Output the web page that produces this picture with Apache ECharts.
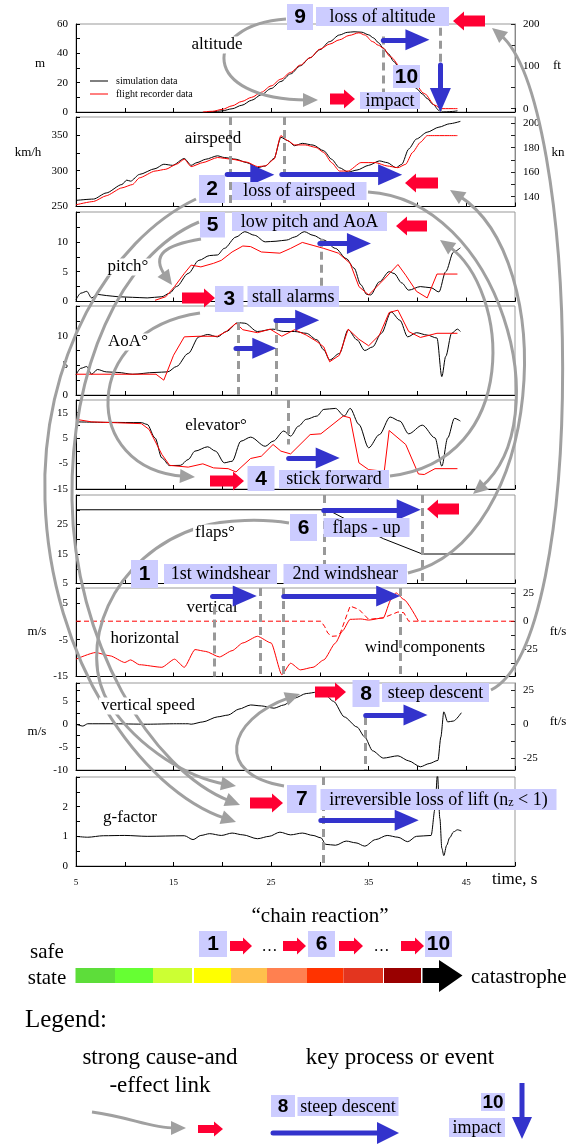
<!DOCTYPE html>
<html><head><meta charset="utf-8">
<script src="https://cdn.jsdelivr.net/npm/echarts@6.0.0/dist/echarts.min.js"></script>
<style>html,body{margin:0;padding:0;background:#fff;}#chart{width:576px;height:1144px;}</style>
</head><body><div id="chart"></div>
<script>
// ---------- tick labels ----------
const timeTickLabels = [5, 15, 25, 35, 45];
const altitudeTickLabels = [0, 20, 40, 60];
const airspeedTickLabels = [250, 300, 350];
const pitchTickLabels = [0, 5, 10];
const aoaTickLabels = [0, 5, 10];
const elevatorTickLabels = [-15, -5, 5, 15];
const flapsTickLabels = [5, 15, 25];
const windTickLabels = [-15, -5, 5];
const vspeedTickLabels = [-10, -5, 0, 5];
const gTickLabels = [0, 1, 2];
const altitudeFtLabels = [0, 100, 200];
const airspeedKnLabels = [140, 160, 180, 200];
const windFtsLabels = [-25, 0, 25];
const vspeedFtsLabels = [-25, 0, 25];

// ---------- series data [time s, value] ----------
const altitudeSim = [[18.5,0],[19,0.2],[20,0.8],[21,2.2],[22,4.6],[23,8],[24,11.8],[25,16],[26,20.8],[27,26],[28,31.5],[29,37],[30,42.5],[31,48],[32,52.5],[32.8,54.3],[33.5,54.7],[34.3,54.4],[35,52.6],[35.5,50.5],[36,47.3],[36.5,43.5],[37,39.8],[37.6,34.3],[38.2,29],[38.8,24],[39.4,19.7],[39.9,16],[40.5,12.3],[41,9.2],[41.6,5.2],[42.2,1.1],[42.4,0],[43,0.1],[43.6,0.4],[44.1,0.8]];
const altitudeRec = [[18,0],[19,0.5],[20,1.8],[21,4.2],[22,7.2],[23,10],[24,13.5],[25,17.8],[26,22.4],[27,27],[28,32],[29,37],[30,42.8],[31,46.3],[32,49.2],[33,52.2],[34,54],[34.6,52.5],[35.4,48],[36,45.5],[36.5,43.5],[37.2,37.8],[38.4,29.8],[39.5,21.8],[40.7,12.6],[41.8,4.6],[42.4,2.3],[44.1,2.3]];
const airspeedSim = [[5,258.5],[6.8,260.4],[8.1,268.9],[9.7,280.7],[10.2,286.8],[10.6,285.4],[11.5,294.8],[13.1,302.8],[14,309],[14.9,307.5],[16.1,317],[16.8,307.5],[17.4,311.3],[18.3,316],[19.5,320.8],[20.2,318.4],[21.4,316],[22.5,311.3],[23.6,304.2],[24.4,306.6],[25.3,317],[26,346.7],[26.7,342],[27.4,334.9],[28.2,338.2],[29.3,335.8],[30.4,327.8],[31.2,316],[32,304.2],[32.9,298.1],[33.8,300.9],[35,307.5],[36.1,313.7],[36.9,311.3],[37.8,304.2],[38.4,309],[39.1,330.2],[39.9,344.3],[41,353.8],[42.2,360.8],[43.3,365.6],[44.4,368.9]];
const airspeedRec = [[5,252.4],[6.8,257],[8.1,265],[9.7,276],[10.8,280.7],[11.5,290],[13.1,299.5],[14.2,302],[15.3,309],[16.1,316],[16.8,305.7],[18,311.3],[19.5,318.4],[21,316],[22.5,312],[23.6,305.7],[24.4,306.6],[25.3,316],[26,349],[26.7,342],[27.4,336],[28.5,336],[29.6,332.5],[30.4,325.5],[31.2,311.3],[32,299.5],[32.9,299.5],[34.2,311.3],[35.7,311.3],[36.9,306.6],[38,304.2],[38.8,309],[39.5,325.5],[40.3,339.6],[41,349],[44.1,349]];
const pitchSim = [[5,0.3],[5.5,1.4],[6.1,1.7],[6.6,0.6],[7.2,1.2],[8.1,1],[9.3,0.8],[10.8,0.7],[12.3,0.6],[13.8,0.8],[14.6,1.4],[15.3,2.5],[16.5,4.7],[17.6,6.9],[18.7,7.7],[19.5,7.8],[20.2,8.9],[21.4,10.8],[22.3,11.7],[23.3,11.1],[24.4,10],[25.5,10.1],[26.6,10.3],[27.4,10.8],[28.4,11.7],[29.3,11.1],[30.4,10.3],[31.6,8.9],[32.7,7.2],[33.5,5.6],[34.2,2.8],[34.8,1.2],[35.2,1.1],[36.1,3.3],[37.1,5],[37.6,4.7],[38.4,3.1],[39.1,1.9],[40.3,2.5],[41.4,2.3],[42.2,1.6],[42.9,5],[43.7,8.3],[44.4,9]];
const pitchRec = [[13.1,0.2],[14.2,0.8],[15.1,2.5],[16.1,4.7],[16.8,6.1],[17.8,5.8],[19.1,6.4],[19.9,6.9],[21,8.3],[22.1,9.3],[22.9,9.2],[24,8.3],[25.9,8.1],[27,8.9],[28.2,9.9],[29.3,9.4],[30.4,8.9],[31.9,8.1],[33.1,6.4],[34,2.5],[35,1.1],[36.5,3.6],[38,6.2],[38.8,4.4],[39.9,1.7],[41,0.6],[42,4.6],[44.1,4.6]];
const aoaSim = [[5,3.4],[5.5,4.5],[6.1,4.8],[6.6,3.5],[7.2,4.3],[8.1,3.9],[9.3,3.8],[10.8,3.5],[13.1,3.8],[14.4,3.9],[15.3,4.8],[16.5,7],[17.6,9.8],[18.5,10.2],[19.5,9.8],[20.4,10.7],[21.6,12.2],[22.3,12.1],[23.6,10.7],[25.2,11.1],[26.3,10.7],[27.4,10.7],[28.6,10.4],[29.7,9.3],[30.4,7.6],[31,5.9],[32,7],[32.9,11],[33.8,9.3],[34.6,7.5],[35.4,8.1],[36.3,10.4],[37.3,14],[38.2,12.6],[39,9.8],[39.9,10.5],[41,10.1],[42,9.6],[42.5,3.1],[42.9,6.5],[43.5,10.4],[44.1,11.1],[44.4,10.7]];
const aoaRec = [[5,3.5],[13.2,3.5],[14,2.5],[15,6.7],[16.1,9.8],[17.6,9.9],[19.5,9.9],[20.4,10.7],[21.4,12.1],[22.1,11],[23.6,10.5],[24.9,11.1],[26.1,9.9],[27.4,11],[28.6,10.1],[29.7,9],[30.4,8.1],[31,5.6],[32,6.7],[32.9,11.1],[34,9.4],[35,8.3],[36.1,10.1],[37.1,13.9],[38,14.3],[39.1,10.7],[40.3,9.7],[42,10.4],[44.1,10.4]];
const elevatorSim = [[5,11.4],[8.5,11.2],[11.7,11.1],[12.3,10.4],[13.1,5.1],[13.8,-2.8],[14.6,-5.8],[15.7,-5.7],[16.5,-3.4],[17.2,-0.1],[18.5,1.6],[19.3,-0.1],[20.2,-4.7],[21,-4.1],[21.9,3.8],[22.9,5.4],[24.4,1.8],[25.2,3.8],[26.3,7.8],[27,5.8],[27.8,9.7],[28.6,12.4],[29.7,13.7],[30.4,16.3],[31.6,16.7],[32.5,13.7],[33.1,16.7],[34,10.4],[35,1.2],[36.1,6.4],[37.2,13.3],[38.2,11.7],[39.1,6.7],[40.5,10.1],[41.8,5.1],[42.5,-6],[43.1,5.1],[43.8,12.8],[44.4,11.7]];
const elevatorRec = [[5,12.4],[6.6,11.4],[11.7,10.7],[12.5,8.4],[13.8,-1.4],[14.6,-5.7],[16.5,-6.4],[18,-5.1],[19.1,-6.7],[20.6,-7],[21.4,-8.3],[22.9,-3],[24,-2.1],[25.2,2.5],[26,-0.1],[27,-1.2],[29,6.4],[30.1,6.7],[32.4,13.7],[33.1,13],[34,-4.7],[35,-7.4],[36.6,-8],[37.1,8],[38.8,2.5],[40.1,-9.1],[40.7,-9.3],[41.8,-7],[44.1,-7]];
const flapsSim = [[5,30],[30.8,30],[32.7,26.7],[36.5,20.2],[40.5,15],[50,15]];
const windHorizontal = [[5,-10.3],[7,-8.5],[8.5,-9.4],[10,-11.2],[10.6,-10.5],[11.5,-11.8],[13.8,-12.5],[15.1,-10.3],[16.1,-12.5],[17.2,-7.7],[18.3,-8.2],[19.7,-9.7],[21,-8],[22.1,-5.9],[23.6,-4.1],[25,-5.9],[26.1,-14.5],[27,-11.4],[28,-13.2],[29.3,-12.5],[30.4,-10.5],[31.6,-5.9],[32.3,-2.7],[33.1,0.5],[34.2,0.6],[35,0.3],[36.5,0.9],[37.3,5.9],[37.8,7.7],[38.6,5.9],[40.1,0]];
const windVertical = [[5,0],[30.1,0],[30.5,-1.5],[30.8,-3.2],[31.2,-4.1],[31.7,-4],[32.1,-3.2],[32.6,0.5],[33.1,4.1],[33.6,3.6],[34,3.2],[35,0.5],[36.5,0.9],[38,2.5],[38.6,2.3],[39.1,0],[50,0]];
const verticalSpeed = [[5,0],[5.7,-0.4],[6.2,0.1],[8.5,0.1],[12.3,0],[15.3,0.1],[16.5,0.1],[16.8,0],[18,0.5],[19.5,1.6],[20.6,2],[21.7,3.3],[22.9,4.2],[24,4],[25.3,3.5],[26.3,4.2],[27.4,5.7],[28.6,6.7],[29.7,7],[30.4,6.7],[31.4,5],[32.5,1.6],[33.8,-0.6],[34.6,-2.8],[35.4,-5.8],[36.5,-7.4],[38,-6.9],[39.1,-8],[40.3,-9.3],[41.2,-8.6],[42.1,-7.9],[42.4,-2.8],[42.7,2.7],[43.1,0.5],[43.7,0.7],[44.5,2.5]];
const gFactor = [[5,1],[6.2,0.97],[7.8,1.02],[10,1.03],[12.3,1],[16.1,1.02],[17,0.89],[17.8,1.03],[18.7,1.09],[19.9,1.03],[21,1.11],[22.1,1.05],[23.6,0.92],[24.8,1],[25.9,1.14],[27,1.05],[28.2,1.11],[29.3,1.03],[30.1,0.95],[30.6,0.73],[31.6,0.7],[32.7,0.84],[33.7,0.78],[34.6,0.67],[35.7,0.89],[36.9,1.03],[38,0.97],[39,0.82],[39.9,1],[41.4,1.03],[41.8,1.92],[42.05,3.1],[42.3,1.6],[42.5,0.6],[42.7,0.35],[43,0.7],[43.3,0.95],[43.7,1.15],[44.1,1.22],[44.5,1.18]];

// key-process arrows (panel, from [t,v], to [t,v]) and event markers (dashed)
const keyProcessArrows = [
  {p:0, from:[36.5,49.2], to:[40.0,49.2]},
  {p:0, from:[42.35,32], to:[42.35,8.2]},
  {p:1, from:[20.5,294.5], to:[24.1,294.5]},
  {p:1, from:[26.1,294.5], to:[37.2,294.5]},
  {p:2, from:[30.0,9.7], to:[34.0,9.7]},
  {p:3, from:[25.5,12.6], to:[28.7,12.6]},
  {p:3, from:[21.4,7.9], to:[24.3,7.9]},
  {p:4, from:[26.8,-2.8], to:[30.8,-2.8]},
  {p:5, from:[30.4,30], to:[39.1,30]},
  {p:6, from:[19.0,6.8], to:[22.3,6.8]},
  {p:6, from:[26.3,6.8], to:[37.0,6.8]},
  {p:7, from:[34.7,2], to:[39.8,2]},
  {p:8, from:[30.1,1.54], to:[38.9,1.54]}
];
const eventMarkers = [
  {p:0, t:36.5, v:[51.5,0]}, {p:0, t:42.35, v:[57.4,0]},
  {p:1, t:20.8, v:[375,250]}, {p:1, t:26.3, v:[375,250]},
  {p:2, t:30.1, v:[10.5,0]},
  {p:3, t:21.6, v:[12.3,0]}, {p:3, t:25.5, v:[12.3,0]},
  {p:4, t:26.8, v:[20,2.5]},
  {p:5, t:30.4, v:[35,5]}, {p:5, t:40.5, v:[35,5]},
  {p:6, t:19.2, v:[4,-15]}, {p:6, t:23.9, v:[9,-15]}, {p:6, t:26.2, v:[9,-15]}, {p:6, t:38.2, v:[9,-15]},
  {p:7, t:34.7, v:[1.6,-10]},
  {p:8, t:30.3, v:[3,0]}
];

// ---------- layout ----------
const SERIF = '"Liberation Serif","Times New Roman",serif';
const SANS = '"Liberation Sans",Arial,sans-serif';
const GRAY = '#a0a0a0', BLUE = '#3333cc', REDA = '#ff0033', LAV = '#ccccff';
const panels = [
  {top:24, h:88, min:0, max:60, step:10, labels:altitudeTickLabels},
  {top:117, h:89.5, min:250, max:375, step:25, labels:airspeedTickLabels},
  {top:212, h:89.5, min:0, max:15, step:2.5, labels:pitchTickLabels},
  {top:306, h:89, min:0, max:15, step:2.5, labels:aoaTickLabels},
  {top:400, h:89, min:-15, max:20, step:5, labels:elevatorTickLabels},
  {top:495, h:88.5, min:5, max:35, step:5, labels:flapsTickLabels},
  {top:588, h:88.5, min:-15, max:9, step:5, labels:windTickLabels},
  {top:683, h:87, min:-10, max:9, step:2.5, labels:vspeedTickLabels},
  {top:777, h:89, min:0, max:3, step:0.5, labels:gTickLabels}
];
const rightAxes = [
  {p:0, min:-8, max:200, ticks:[0,50,100,150,200], labels:altitudeFtLabels},
  {p:1, min:132, max:205, ticks:[140,150,160,170,180,190,200], labels:airspeedKnLabels},
  {p:6, min:-49.5, max:29.5, ticks:[-37.5,-25,-12.5,0,12.5,25], labels:windFtsLabels},
  {p:7, min:-33.6, max:30.4, ticks:[-25,-12.5,0,12.5,25], labels:vspeedFtsLabels}
];

const has = (arr, v) => arr.some(a => Math.abs(a - v) < 1e-6);

const grids = panels.map(p => ({left:76, right:61, top:p.top, height:p.h, show:true, borderColor:'#999', borderWidth:1, containLabel:false, outerBoundsMode:'none'}));
const xAxes = panels.map((p, i) => ({
  gridIndex:i, type:'value', min:5, max:50, interval:5,
  axisLine:{show:true, onZero:false, lineStyle:{color:'#000', width:1}},
  axisTick:{show:true, inside:true, length:4, lineStyle:{color:'#000'}},
  axisLabel:{show:i === 8, formatter:v => has(timeTickLabels, v) ? String(v) : '', fontFamily:SERIF, fontSize:9, color:'#000', margin:12},
  splitLine:{show:false}
}));
const yAxes = panels.map((p, i) => ({
  gridIndex:i, type:'value', position:'left', min:p.min, max:p.max, interval:p.step,
  axisLine:{show:true, onZero:false, lineStyle:{color:'#000', width:1}},
  axisTick:{show:true, inside:true, length:4, lineStyle:{color:'#000'}},
  axisLabel:{formatter:v => has(p.labels, v) ? String(v) : '', fontFamily:SERIF, fontSize:11, color:'#000', margin:8},
  splitLine:{show:false}
}));
rightAxes.forEach(r => yAxes.push({
  gridIndex:r.p, type:'value', position:'right', min:r.min, max:r.max,
  axisLine:{show:true, onZero:false, lineStyle:{color:'#888', width:1}},
  axisTick:{show:true, inside:true, length:4, customValues:r.ticks, lineStyle:{color:'#222'}},
  axisLabel:{customValues:r.labels, fontFamily:SERIF, fontSize:11, color:'#000', margin:8},
  splitLine:{show:false}
}));

const lineDefs = [
  [0, altitudeSim, '#000', 0.3], [0, altitudeRec, '#ff0000', 0.3],
  [1, airspeedSim, '#000', 0.25], [1, airspeedRec, '#ff0000', 0.2],
  [2, pitchSim, '#000', 0.3], [2, pitchRec, '#ff0000', 0],
  [3, aoaSim, '#000', 0.3], [3, aoaRec, '#ff0000', 0],
  [4, elevatorSim, '#000', 0.3], [4, elevatorRec, '#ff0000', 0],
  [5, flapsSim, '#000', 0],
  [6, windHorizontal, '#ff0000', 0.2], [6, windVertical, '#ff0000', 0, [5,3]],
  [7, verticalSpeed, '#000', 0.25],
  [8, gFactor, '#000', 0.3]
];
const series = lineDefs.map(d => ({
  type:'line', xAxisIndex:d[0], yAxisIndex:d[0], data:d[1], showSymbol:false, symbol:'none',
  smooth:d[3], smoothMonotone:'x', z:2, silent:true,
  lineStyle:{color:d[2], width:1, type:d[4] || 'solid'}
}));
for (let i = 0; i < 9; i++) {
  const dm = eventMarkers.filter(m => m.p === i);
  if (dm.length) series.push({type:'lines', coordinateSystem:'cartesian2d', xAxisIndex:i, yAxisIndex:i, z:3, silent:true,
    symbol:'none', lineStyle:{color:'#999', width:3, type:[8,5], opacity:1},
    data:dm.map(m => ({coords:[[m.t, m.v[0]], [m.t, m.v[1]]]}))});
  const ar = keyProcessArrows.filter(a => a.p === i);
  if (ar.length) series.push({type:'lines', coordinateSystem:'cartesian2d', xAxisIndex:i, yAxisIndex:i, z:4, silent:true,
    symbol:['none','triangle'], symbolSize:[[1,1],[21,24]], lineStyle:{color:BLUE, width:5, opacity:1, cap:'round'},
    data:ar.map(a => ({coords:[a.from, a.to]}))});
}

// ---------- annotation graphics ----------
const G = [];
function txt(x, y, text, font, o) {
  o = o || {};
  const st = {text:text, font:font, fill:'#000', textAlign:o.align || 'center', textVerticalAlign:'middle', align:o.align || 'center', verticalAlign:'middle'};
  if (o.bg) { st.backgroundColor = '#fff'; st.padding = [0, 2]; }
  if (o.rich) st.rich = o.rich;
  G.push({type:'text', x:x, y:y, z:o.z || 30, silent:true, style:st});
}
function rect(x, y, w, h, fill, z) { G.push({type:'rect', z:z, silent:true, shape:{x:x, y:y, width:w, height:h}, style:{fill:fill}}); }
function box(x, y, w, h, text, font, rich) { rect(x, y, w, h, LAV, 40); txt(x + w / 2, y + h / 2 + 0.5, text, font, {z:41, rich:rich}); }
function redArrow(x0, x1, yc, dir, bh, hh, hl) {
  bh = bh || 11; hh = hh || 19; hl = hl || 11;
  let pts;
  if (dir > 0) pts = [[x0, yc - bh/2], [x1 - hl, yc - bh/2], [x1 - hl, yc - hh/2], [x1, yc], [x1 - hl, yc + hh/2], [x1 - hl, yc + bh/2], [x0, yc + bh/2]];
  else pts = [[x1, yc - bh/2], [x0 + hl, yc - bh/2], [x0 + hl, yc - hh/2], [x0, yc], [x0 + hl, yc + hh/2], [x0 + hl, yc + bh/2], [x1, yc + bh/2]];
  G.push({type:'polygon', z:42, silent:true, shape:{points:pts}, style:{fill:REDA}});
}
function grayArc(start, segs, tipLen, tipW) {
  tipLen = tipLen || 15; tipW = tipW || 14;
  let p = start;
  segs.forEach((s, i) => {
    let ex = s[4], ey = s[5];
    if (i === segs.length - 1) {
      const dx = ex - s[2], dy = ey - s[3], L = Math.hypot(dx, dy), ux = dx / L, uy = dy / L, nx = -uy, ny = ux;
      const bx = ex - ux * tipLen, by = ey - uy * tipLen;
      G.push({type:'polygon', z:12, silent:true, shape:{points:[[ex, ey], [bx + nx * tipW / 2, by + ny * tipW / 2], [bx - nx * tipW / 2, by - ny * tipW / 2]]}, style:{fill:GRAY}});
      ex = ex - ux * tipLen * 0.7; ey = ey - uy * tipLen * 0.7;
    }
    G.push({type:'bezierCurve', z:11, silent:true, shape:{x1:p[0], y1:p[1], cpx1:s[0], cpy1:s[1], cpx2:s[2], cpy2:s[3], x2:ex, y2:ey}, style:{stroke:GRAY, lineWidth:3, fill:'none'}});
    p = [s[4], s[5]];
  });
}

// cause-and-effect links
const causeLinks = [
  {start:[286,19], segs:[[200,25,200,100,318,100]]},
  {start:[491,690], segs:[[590,640,580,100,492,28]]},
  {start:[408,573], segs:[[545,540,560,260,450,190]]},
  {start:[390,476], segs:[[522,460,510,290,440,240]]},
  {start:[368,192], segs:[[500,200,560,420,473,494]]},
  {start:[284,786], segs:[[215,775,225,720,300,694]]},
  {start:[200,313], segs:[[80,330,80,470,195,477]]},
  {start:[196,199], segs:[[110,240,40,360,45,500],[50,660,140,790,236,822]]},
  {start:[199,222], segs:[[120,255,70,370,72,500],[74,640,150,770,240,805]]},
  {start:[201,239], segs:[[165,245,150,255,172,285]]},
  {start:[289,523], segs:[[265,519,225,519,200,527],[110,555,75,650,110,705],[140,750,190,778,236,786]]}
];
causeLinks.forEach(c => grayArc(c.start, c.segs));

// plot labels
const F17 = '17px ' + SERIF;
txt(217, 45, 'altitude', F17, {bg:true});
txt(213, 139, 'airspeed', F17);
txt(128, 267, 'pitch°', F17, {bg:true});
txt(128, 342, 'AoA°', F17, {bg:true});
txt(216, 426, 'elevator°', F17);
txt(215, 533, 'flaps°', F17, {bg:true});
txt(212, 608, 'vertical', F17, {z:3});
txt(145, 639, 'horizontal', F17);
txt(425, 648, 'wind components', F17);
txt(148, 706, 'vertical speed', F17, {bg:true});
txt(130, 818, 'g-factor', F17);
// unit labels
const F13 = '13px ' + SERIF;
txt(40, 64, 'm', F13); txt(557, 66, 'ft', F13);
txt(28, 153, 'km/h', F13); txt(558, 153, 'kn', F13);
txt(37, 632, 'm/s', F13); txt(558, 632, 'ft/s', F13);
txt(37, 732, 'm/s', F13); txt(558, 722, 'ft/s', F13);
txt(492, 880, 'time, s', '17px ' + SERIF, {align:'left'});
// data legend inside altitude panel
G.push({type:'line', z:30, silent:true, shape:{x1:90, y1:81, x2:108, y2:81}, style:{stroke:'#000', lineWidth:1}});
G.push({type:'line', z:30, silent:true, shape:{x1:90, y1:94, x2:108, y2:94}, style:{stroke:'#ff0000', lineWidth:1}});
txt(116, 81, 'simulation data', '10px ' + SERIF, {align:'left'});
txt(116, 94, 'flight recorder data', '10px ' + SERIF, {align:'left'});

// numbered event boxes
const NUM = 'bold 21px ' + SANS, BT = '18px ' + SERIF;
box(287, 4, 26, 26, '9', NUM); box(316, 7, 133, 19, 'loss of altitude', BT);
box(393, 65, 27, 23, '10', NUM); box(360, 92, 60, 17, 'impact', BT);
box(199, 175, 26, 28, '2', NUM); box(232, 182, 134.5, 18, 'loss of airspeed', BT);
box(200, 212, 25, 25.5, '5', NUM); box(232, 212, 155, 19, 'low pitch and AoA', BT);
box(215, 286, 28.5, 26, '3', NUM); box(247.5, 286, 91.5, 21, 'stall alarms', BT);
box(247.5, 466, 27, 25, '4', NUM); box(279, 470, 110, 18.5, 'stick forward', BT);
box(290, 514, 27, 27, '6', NUM); box(323.5, 518, 86, 19, 'flaps - up', BT);
box(131, 560, 27, 28, '1', NUM); box(164, 564, 113, 20, '1st windshear', BT); box(283.5, 564, 123.5, 20, '2nd windshear', BT);
box(352.5, 680, 27, 27, '8', NUM); box(382, 683, 107, 19, 'steep descent', BT);
box(287, 785, 29.5, 28, '7', NUM);
box(320.5, 789, 236, 21, 'irreversible loss of lift (n{sub|z} < 1)', BT, {sub:{font:'12px ' + SERIF, verticalAlign:'bottom'}});

// red block arrows
redArrow(330, 355, 99, 1); redArrow(453, 485, 21, -1);
redArrow(405, 438, 183, -1); redArrow(396, 427, 226, -1);
redArrow(182, 215, 298, 1); redArrow(210, 244, 481, 1);
redArrow(427, 459, 509, -1); redArrow(315, 346, 692, 1);
redArrow(250, 283, 803, 1);

// ---------- chain reaction ----------
txt(320, 916, '\u201Cchain reaction\u201D', '21px ' + SERIF);
box(199, 931, 28, 26, '1', 'bold 21px ' + SANS);
box(308, 931, 27, 26, '6', 'bold 21px ' + SANS);
box(425, 931, 27, 26, '10', 'bold 21px ' + SANS);
redArrow(230, 252, 946, 1, 10, 17, 9); redArrow(283, 306, 946, 1, 10, 17, 9);
redArrow(339, 363, 946, 1, 10, 17, 9); redArrow(401, 424, 946, 1, 10, 17, 9);
txt(269.5, 947, '\u2026', '16px ' + SERIF); txt(381.5, 947, '\u2026', '16px ' + SERIF);
txt(47, 952, 'safe', '21px ' + SERIF); txt(47, 978, 'state', '21px ' + SERIF);
const safetyColors = ['#5ddd3a', '#66ff33', '#ccff33', '#ffff00', '#ffc04c', '#ff8050', '#ff3300', '#e3351f', '#990000'];
const safetyEdges = [[75.5,115],[115,153],[153,192],[194,231],[231,267],[267,307],[307,343.5],[343.5,383],[384,421]];
safetyEdges.forEach((e, i) => rect(e[0], 968, e[1] - e[0], 15, safetyColors[i], 20));
G.push({type:'polygon', z:20, silent:true, shape:{points:[[422.5,968],[439,968],[439,960],[462.5,975.5],[439,992],[439,983],[422.5,983]]}, style:{fill:'#000'}});
txt(471, 977, 'catastrophe', '21px ' + SERIF, {align:'left'});

// ---------- legend ----------
txt(25, 1020, 'Legend:', '25px ' + SERIF, {align:'left'});
txt(160, 1058, 'strong cause-and', '23px ' + SERIF);
txt(160, 1086, '-effect link', '23px ' + SERIF);
txt(400, 1058, 'key process or event', '23px ' + SERIF);
grayArc([92,1112], [[130,1117,150,1128,186,1128]]);
redArrow(198, 223, 1129, 1, 8, 15, 9);
box(271, 1095, 24, 22, '8', 'bold 19px ' + SANS);
box(297.5, 1097, 101, 19, 'steep descent', BT);
G.push({type:'line', z:30, silent:true, shape:{x1:273, y1:1133, x2:382, y2:1133}, style:{stroke:BLUE, lineWidth:5, lineCap:'round'}});
G.push({type:'polygon', z:30, silent:true, shape:{points:[[399,1133],[377,1122],[377,1144]]}, style:{fill:BLUE}});
box(481, 1093, 24, 18, '10', 'bold 19px ' + SANS);
box(449, 1118, 56, 19, 'impact', BT);
G.push({type:'line', z:30, silent:true, shape:{x1:522, y1:1083, x2:522, y2:1120}, style:{stroke:BLUE, lineWidth:5}});
G.push({type:'polygon', z:30, silent:true, shape:{points:[[522,1139],[512,1117],[532,1117]]}, style:{fill:BLUE}});

const chart = echarts.init(document.getElementById('chart'), null, {renderer:'canvas', width:576, height:1144});
chart.setOption({animation:false, backgroundColor:'#fff', grid:grids, xAxis:xAxes, yAxis:yAxes, series:series, graphic:G});
</script></body></html>
